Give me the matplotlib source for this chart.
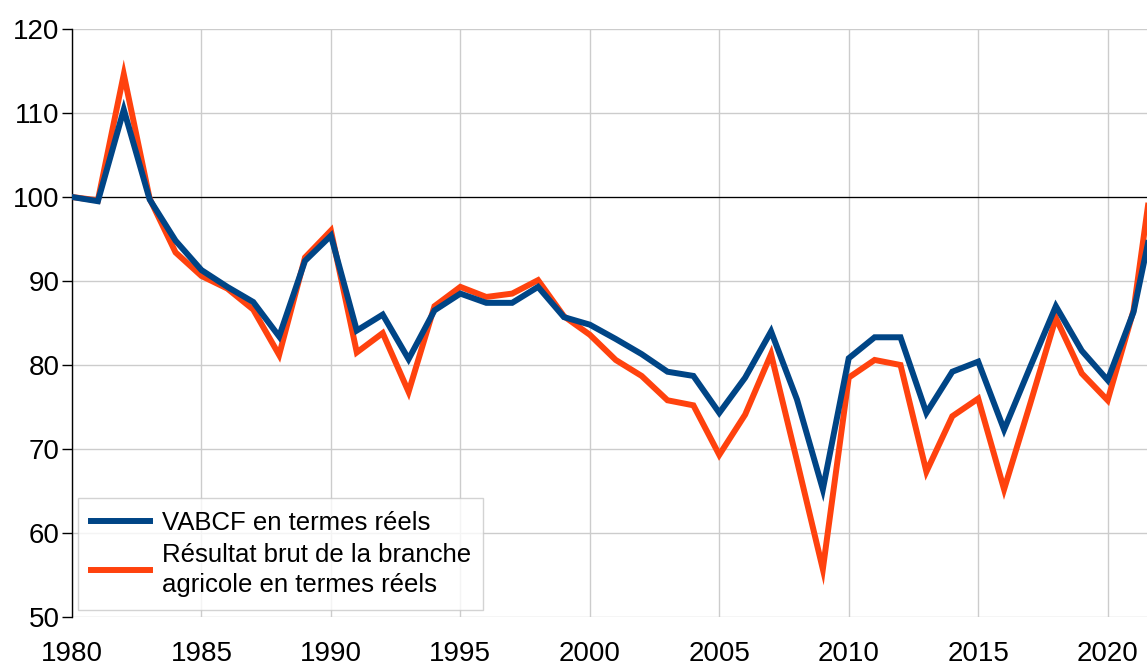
import matplotlib
matplotlib.use("Agg")
import matplotlib.pyplot as plt

plt.rcParams["font.family"] = ["Liberation Sans", "DejaVu Sans"]

years = list(range(1980, 2023))
vabcf = [100.0, 99.5, 110.4, 99.7, 94.8, 91.3, 89.3, 87.5, 83.4, 92.4,
         95.4, 84.1, 86.0, 80.7, 86.5, 88.5, 87.4, 87.4, 89.3, 85.7,
         84.8, 83.1, 81.3, 79.2, 78.7, 74.3, 78.5, 84.0, 75.9, 65.2,
         80.8, 83.3, 83.3, 74.3, 79.2, 80.4, 72.3, 79.7, 87.0, 81.7,
         78.2, 86.3, 101.0]
resultat = [100.0, 99.6, 114.6, 99.8, 93.4, 90.6, 89.1, 86.6, 81.2, 92.8,
            96.0, 81.5, 83.8, 76.8, 87.0, 89.3, 88.1, 88.5, 90.1, 85.8,
            83.6, 80.6, 78.7, 75.8, 75.2, 69.3, 74.1, 81.3, 68.6, 55.7,
            78.5, 80.6, 80.0, 67.3, 73.9, 76.0, 65.2, 75.3, 85.6, 79.0,
            75.8, 86.5, 108.8]
label_vabcf = "VABCF en termes réels"
label_res = "Résultat brut de la branche\nagricole en termes réels"

fig = plt.figure(figsize=(11.47, 6.62), dpi=100)
ax = fig.add_axes([72 / 1147, 45 / 662, 1 - 72 / 1147, 588 / 662])

ax.plot(years, resultat, color="#ff420e", lw=4.3, label=label_res, zorder=3,
        solid_joinstyle="miter")
ax.plot(years, vabcf, color="#004586", lw=4.3, label=label_vabcf, zorder=4,
        solid_joinstyle="miter")
ax.axhline(100, color="black", lw=0.9, zorder=2)

ax.set_xlim(1980, 2021.52)
ax.set_ylim(50, 120)
ax.set_xticks(range(1980, 2021, 5))
ax.set_yticks(range(50, 121, 10))
ax.grid(True, color="#cccccc", lw=1.0, zorder=0)
ax.set_axisbelow(True)

for s in ["top", "right", "bottom"]:
    ax.spines[s].set_visible(False)
ax.spines["left"].set_color("black")
ax.spines["left"].set_linewidth(1.0)
ax.tick_params(axis="y", direction="out", length=7, width=1, labelsize=20, pad=2)
ax.tick_params(axis="x", length=0, labelsize=20, pad=17)

handles, labels = ax.get_legend_handles_labels()
leg = ax.legend(handles[::-1], labels[::-1], loc="lower left",
                bbox_to_anchor=(6 / 1075, 7 / 588), fontsize=18.5, frameon=True,
                fancybox=False, edgecolor="#c8c8c8", handlelength=2.3,
                handletextpad=0.45, borderpad=0.5, labelspacing=0.3,
                borderaxespad=0)
leg.get_frame().set_linewidth(1.0)
for t in leg.get_texts():
    t.set_linespacing(1.35)

fig.savefig("out.png", dpi=100)
